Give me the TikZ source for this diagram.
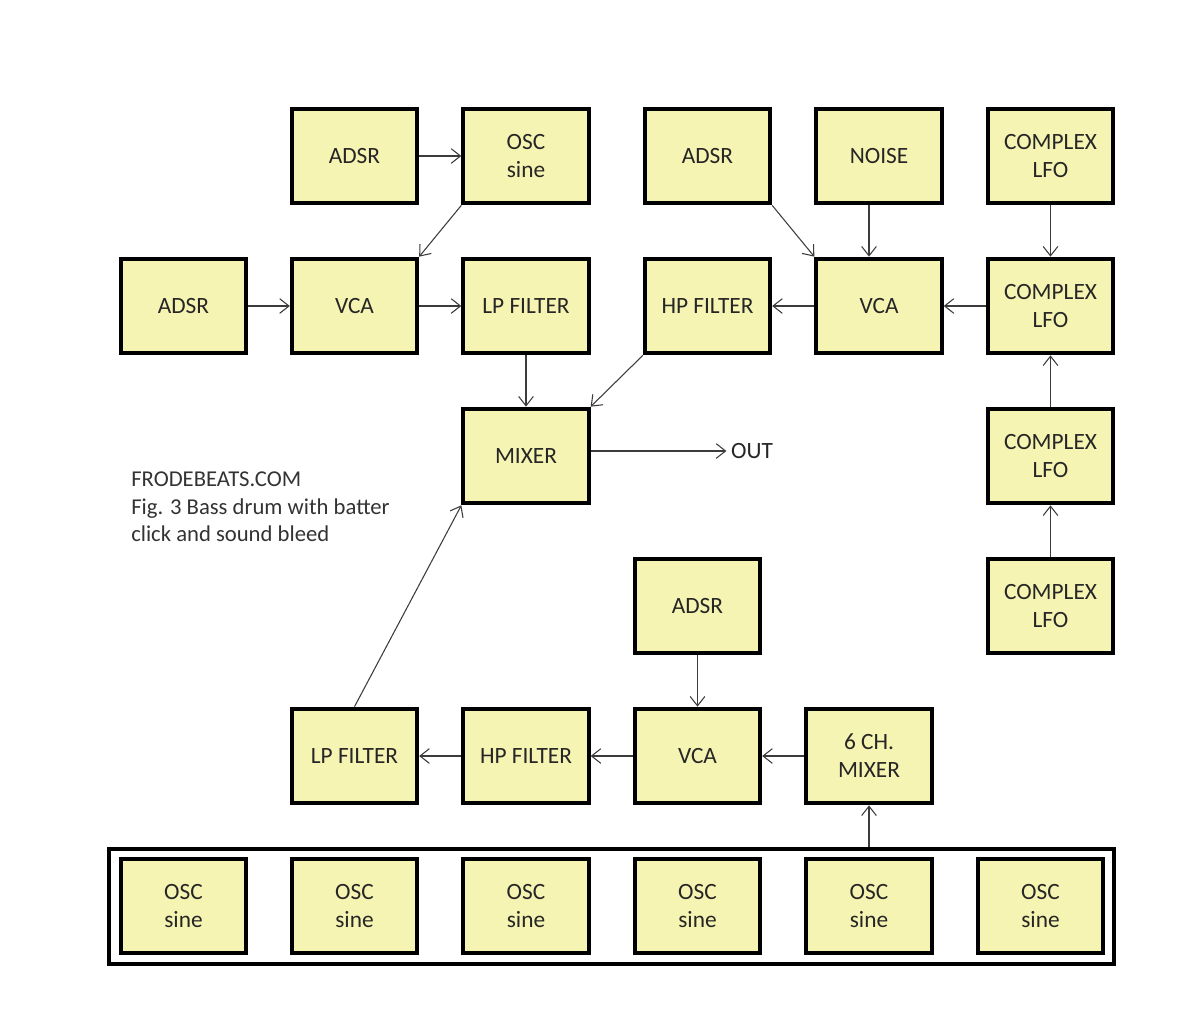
\documentclass[tikz,border=0pt]{standalone}
\usepackage{fontspec}
\setmainfont{Carlito}
\usetikzlibrary{arrows.meta}
\usetikzlibrary{positioning}
\definecolor{boxfill}{RGB}{245,244,178}
\definecolor{linegray}{RGB}{60,60,60}

\begin{document}
\begin{tikzpicture}[x=0.75pt,y=-0.75pt,
    modbox/.style={draw, line width=3pt, fill=boxfill, minimum width=94pt,
      minimum height=71pt, align=center, inner sep=0pt,
      font=\fontsize{17.5}{21}\selectfont, text=black!85},
    wire/.style={draw=linegray, line width=0.8pt,
      -{Straight Barb[length=7pt,width=11pt]}}]
  \useasboundingbox (0,0) rectangle (1200,1029);

  % Bass drum path (top left)
  \node[modbox] (adsrA) at (354.5,156) {ADSR};
  \node[modbox] (oscA) at (526,156) {OSC\\sine};
  \node[modbox] (adsrB) at (183.5,306) {ADSR};
  \node[modbox] (vcaA) at (354.5,306) {VCA};
  \node[modbox] (lpA) at (526,306) {LP FILTER};

  % Batter click path (top right)
  \node[modbox] (adsrC) at (707.5,156) {ADSR};
  \node[modbox] (noise) at (879,156) {NOISE};
  \node[modbox] (lfoA) at (1050.5,156) {COMPLEX\\LFO};
  \node[modbox] (hpA) at (707.5,306) {HP FILTER};
  \node[modbox] (vcaB) at (879,306) {VCA};
  \node[modbox] (lfoB) at (1050.5,306) {COMPLEX\\LFO};
  \node[modbox] (lfoC) at (1050.5,456) {COMPLEX\\LFO};
  \node[modbox] (lfoD) at (1050.5,606) {COMPLEX\\LFO};

  % Mixer and output
  \node[modbox] (mixer) at (526,456) {MIXER};
  \node[font=\fontsize{17.5}{21}\selectfont, text=black!85] (out) at (752,451) {OUT};
  \node[anchor=north west, align=left, inner sep=0pt,
    font=\fontsize{17}{20.5}\selectfont, text=black!80] (caption) at (131,472)
    {FRODEBEATS.COM\\Fig. 3 Bass drum with batter\\click and sound bleed};

  % Sound bleed path (bottom)
  \node[modbox] (adsrD) at (697.5,606) {ADSR};
  \node[modbox] (lpB) at (354.5,756) {LP FILTER};
  \node[modbox] (hpB) at (526,756) {HP FILTER};
  \node[modbox] (vcaC) at (697.5,756) {VCA};
  \node[modbox] (mixsix) at (869,756) {6 CH.\\MIXER};

  % Oscillator bank
  \foreach \x [count=\i] in {183.5,354.5,526,697.5,869,1040.5}
    \node[modbox] (osc\i) at (\x,906) {OSC\\sine};
  \draw[line width=3pt] (108.5,848.5) rectangle (1113.5,963.5);
  \coordinate (bank) at (869,847);

  % Connections
  \draw[wire] (adsrA) -- (oscA);
  \draw[wire] (oscA.south west) -- (vcaA.north east);
  \draw[wire] (adsrB) -- (vcaA);
  \draw[wire] (vcaA) -- (lpA);
  \draw[wire] (lpA) -- (mixer);
  \draw[wire] (adsrC.south east) -- (vcaB.north west);
  \draw[wire] (noise.south -| 869,0) -- (vcaB.north -| 869,0);
  \draw[wire] (lfoA) -- (lfoB);
  \draw[wire] (lfoB) -- (vcaB);
  \draw[wire] (vcaB) -- (hpA);
  \draw[wire] (hpA.south west) -- (mixer.north east);
  \draw[wire] (lfoC) -- (lfoB);
  \draw[wire] (lfoD) -- (lfoC);
  \draw[wire] (mixer.east |- out) -- (out.west);
  \draw[wire] (adsrD) -- (vcaC);
  \draw[wire] (mixsix) -- (vcaC);
  \draw[wire] (vcaC) -- (hpB);
  \draw[wire] (hpB) -- (lpB);
  \draw[wire] (lpB.north) -- (mixer.south west);
  \draw[wire] (bank) -- (mixsix);
\end{tikzpicture}
\end{document}
